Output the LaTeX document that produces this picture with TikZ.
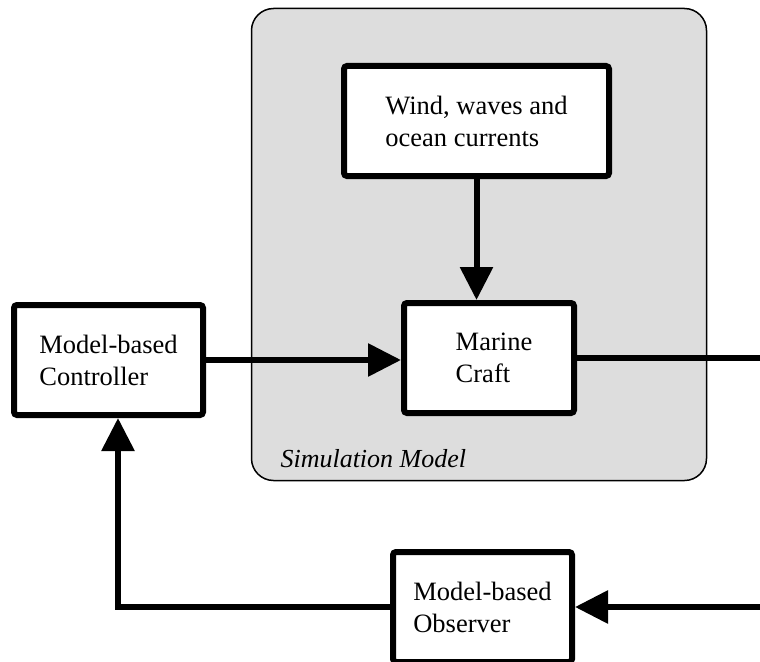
\documentclass[tikz,border=0pt]{standalone}
\usepackage{fontspec}
\setmainfont{Liberation Serif}
\usetikzlibrary{arrows.meta}
\definecolor{simgray}{RGB}{221,221,221}
\begin{document}
\begin{tikzpicture}[x=1pt,y=-1pt,
  block/.style={draw=black, fill=white, line width=6pt, rounded corners=3pt,
    align=left, inner sep=0pt, font=\fontsize{26.5}{32}\selectfont},
  flow/.style={line width=6pt},
  tip/.style={-{Triangle[length=33pt,width=32pt]}}
]
\useasboundingbox (0,0) rectangle (760,661);
\begin{scope}
\clip (0,0) rectangle (760,661);

% simulation model frame
\draw[fill=simgray, line width=1.5pt, rounded corners=22pt] (251.5,8.5) rectangle (706.5,480.5);
\node[anchor=base west, font=\fontsize{26}{32}\selectfont\itshape] (simlabel) at (277,467) {Simulation Model};

% blocks
\node[block, minimum width=265pt, minimum height=110pt] (wind) at (476.5,121) {Wind, waves and\\ocean currents};
\node[block, minimum width=170pt, minimum height=110pt] (craft) at (489,358) {\hspace*{10pt}Marine\\\hspace*{10pt}Craft};
\node[block, minimum width=189pt, minimum height=110pt] (ctrl) at (108.5,360) {Model-based\\Controller};
\node[block, minimum width=179pt, minimum height=110pt] (obs) at (482.5,607) {Model-based\\Observer};

% free ends at the right border
\coordinate (outR) at (762,358);
\coordinate (inR) at (762,607);
\coordinate (fb) at (118,607);

% connections
\draw[flow,tip] (wind.south) -- (wind.south |- craft.north);
\draw[flow,tip] (ctrl.east) -- (ctrl.east -| craft.west);
\draw[flow] (craft.east) -- (outR);
\draw[flow,tip] (inR) -- (obs.east);
\draw[flow,tip] (obs.west) -- (fb) -- (fb |- ctrl.south);
\end{scope}
\end{tikzpicture}
\end{document}
